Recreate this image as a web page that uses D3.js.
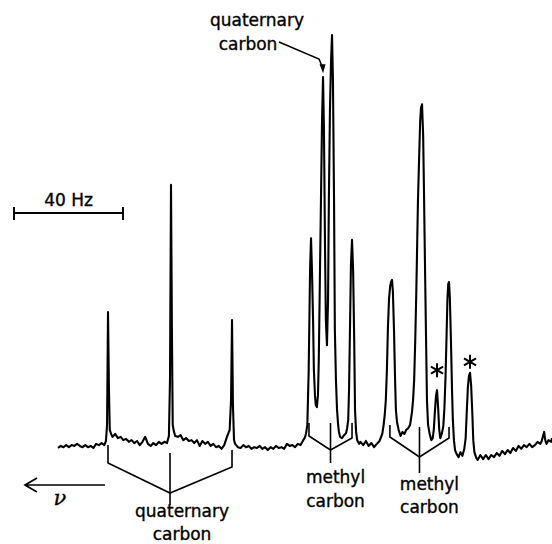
<!DOCTYPE html>
<html>
<head>
<meta charset="utf-8">
<script src="https://cdn.jsdelivr.net/npm/d3@7"></script>
<style>
body { margin: 0; background: #fff; }
svg text { font-family: "DejaVu Sans", sans-serif; font-size: 17px; fill: #000; stroke: #000; stroke-width: 0.35px; }
</style>
</head>
<body>
<div id="chart"></div>
<script>
//////////////////////////////////////////////////////////////////////////////
// Data: shift in Hz (from left end), intensity in %

var traceHz = [0,1,2,3,4,5,6,7,8,9,10,11,12,13,14,15,16,17,17.6,18.0,18.35,18.7,19.0,19.5,
  20,21,22,23,24,25,26,27,28,29,30,31,32,33,34,35,36,37,38,39,40,40.7,41.1,41.47,41.8,42.1,42.5,
  43,44,45,46,47,48,49,50,51,52,53,54,55,56,57,58,59,60,61,62,63,63.5,63.86,64.2,64.6,
  65,66,67,68,69,70,71,72,73,74,75,76,77,78,79,80,81,82,83,84,85,86,87,88,89,90,90.5,91,91.5,
  92,92.5,92.85,93.2,93.6,93.9,94.3,94.6,95.0,95.4,95.7,96.1,96.5,96.9,97.26,97.6,98.0,98.3,98.7,
  99.1,99.4,99.8,100.2,100.56,100.9,101.3,101.6,102.0,102.4,102.8,103.1,103.5,104.2,105,105.7,
  106.1,106.5,106.8,107.2,107.5,107.9,108.3,108.7,109.0,109.4,109.8,110.5,111,112,113,114,115,
  116,117,118,119,119.5,119.9,120.3,120.7,121.1,121.5,121.9,122.2,122.58,122.9,123.3,123.7,124.0,
  124.4,125,125.7,126.4,127.1,127.8,128.5,129.2,129.9,130.3,130.7,131.1,131.5,131.8,132.1,132.5,
  132.9,133.2,133.59,134.0,134.3,134.7,135.1,135.4,135.8,136.4,137,137.5,137.9,138.3,138.7,139.09,
  139.5,139.9,140.3,140.9,141.4,141.8,142.2,142.6,142.9,143.2,143.5,143.8,144.2,144.6,144.9,145.3,
  145.7,146.3,147,147.7,148.4,149.1,149.6,150.0,150.4,150.8,151.2,151.6,152.0,152.4,152.8,153.5,
  154,155,156,157,158,159,160,161,162,163,164,165,166,167,168,169,170,171,172,173,174,175,176,
  177,177.5,178,178.4,178.8,179.3,180,181,181.3];

var traceInt = [0.0,0.5,0.2,0.7,0.2,0.7,0.5,1.0,0.5,0.2,0.7,0.2,0.5,0.0,1.0,0.7,1.2,0.7,1.7,5.6,32.9,14.0,4.4,3.4,
  2.7,3.4,2.4,2.7,1.9,2.2,1.5,1.9,1.2,1.7,0.7,1.5,2.7,1.0,0.5,1.2,0.7,1.5,1.0,1.5,1.2,2.9,16.5,63.7,28.6,5.6,4.1,
  2.9,2.7,3.1,1.9,2.4,1.7,1.9,1.2,1.9,0.5,1.7,1.0,1.5,0.5,1.0,0.2,0.5,-0.2,0.7,2.7,4.4,11.6,31.0,10.4,1.9,
  1.0,0.2,0.0,0.7,0.2,0.5,-0.2,0.2,0.0,0.5,-0.2,0.2,-0.5,0.2,-0.2,0.5,0.0,0.2,-0.2,1.0,0.5,0.7,0.2,1.0,0.7,1.9,2.4,3.4,5.6,
  18.9,43.1,50.8,43.1,31.0,18.9,12.8,10.4,9.9,12.8,21.3,40.7,60.0,79.4,89.8,77.0,47.9,31.0,24.9,
  35.8,60.0,81.8,93.9,100.0,89.1,60.0,28.6,16.5,9.2,5.6,3.9,2.7,2.4,3.1,3.6,
  4.8,6.8,14.0,31.0,44.3,50.4,43.1,26.1,9.2,3.9,1.9,1.0,1.5,0.7,1.7,0.5,1.2,
  0.2,1.0,1.7,3.4,5.6,8.0,11.6,18.9,29.8,36.3,39.2,40.2,40.7,37.8,28.6,16.5,9.2,
  6.3,4.4,2.9,3.9,3.4,4.4,4.8,5.6,8.7,11.6,16.5,26.1,38.2,49.1,60.0,69.7,
  78.9,82.3,83.2,75.7,62.4,43.1,24.9,11.6,5.6,3.4,1.9,2.4,4.4,8.7,12.6,14.0,
  9.7,4.4,2.4,3.6,5.3,9.7,16.9,27.4,35.8,39.7,40.2,36.3,26.1,14.0,6.8,1.9,
  -0.5,-1.5,-2.2,-1.0,-1.9,-0.2,2.4,8.7,14.5,17.4,18.2,15.3,9.2,1.9,-1.0,-2.4,
  -2.9,-1.7,-2.7,-1.7,-2.7,-1.7,-2.2,-1.2,-1.9,-0.7,-1.5,-0.5,-1.2,0.0,-0.7,0.5,-0.2,0.7,0.2,1.0,0.2,0.7,1.5,
  1.0,1.7,2.9,3.9,1.9,1.0,1.9,1.5,2.4];

// multiplets: outer lines and the label under the bracket
var multipletNames = [["quaternary", "carbon"], ["methyl", "carbon"], ["methyl", "carbon"]];
var multipletLeftHz  = [18.35, 92.1, 121.8];
var multipletRightHz = [63.86, 107.9, 143.5];

// impurity lines marked with *
var starHz  = [139.09, 151.2];
var starInt = [14.0, 18.2];

// arrowed label on top
var topLabel = ["quaternary", "carbon"];
var topLabelHz = 97.26;
var topLabelInt = 89.8;

var scaleBarHz = 40;

//////////////////////////////////////////////////////////////////////////////
// Scales, svg

var width = 552, height = 544;

var xScale = d3.scaleLinear().domain([0, 180]).range([58, 548.5]);
var yScale = d3.scaleLinear().domain([0, 100]).range([448, 35]);

var svg = d3.select("#chart")
    .append("svg")
    .attr("width", width)
    .attr("height", height);

svg.append("rect")
    .attr("width", width)
    .attr("height", height)
    .attr("fill", "#fff");

//////////////////////////////////////////////////////////////////////////////
// Spectrum trace

var trace = traceHz.map(function(h, i) { return [h, traceInt[i]]; });

var line = d3.line()
    .x(function(d) { return xScale(d[0]); })
    .y(function(d) { return yScale(d[1]); });

svg.append("path")
    .datum(trace)
    .attr("d", line)
    .attr("fill", "none")
    .attr("stroke", "#000")
    .attr("stroke-width", 2.1)
    .attr("stroke-linejoin", "round");

//////////////////////////////////////////////////////////////////////////////
// Multiplet brackets

var bracketLayout = [
    { topL: 445, topR: 450, footL: 463, footR: 467, apex: 493, stemTop: 453, stemBot: 505, dx: 12, y1: 517, y2: 540 },
    { topL: 423, topR: 423, footL: 436, footR: 438, apex: 450, stemTop: 423, stemBot: 463, dx: 5,  y1: 483, y2: 507 },
    { topL: 425, topR: 427, footL: 437, footR: 438, apex: 457, stemTop: 427, stemBot: 473, dx: 10, y1: 490, y2: 513 }
];

multipletNames.forEach(function(name, i) {
    var L = bracketLayout[i];
    var xl = xScale(multipletLeftHz[i]);
    var xr = xScale(multipletRightHz[i]);
    var xc = (xl + xr) / 2;
    var g = svg.append("g");

    g.append("path")
        .attr("d", "M" + xl + "," + L.topL + "L" + xl + "," + L.footL +
                   "L" + xc + "," + L.apex +
                   "L" + xr + "," + L.footR + "L" + xr + "," + L.topR)
        .attr("fill", "none")
        .attr("stroke", "#000")
        .attr("stroke-width", 1.6);

    g.append("line")
        .attr("x1", xc).attr("x2", xc)
        .attr("y1", L.stemTop).attr("y2", L.stemBot)
        .attr("stroke", "#000")
        .attr("stroke-width", 1.6);

    g.append("text")
        .attr("x", xc + L.dx).attr("y", L.y1)
        .attr("text-anchor", "middle")
        .text(name[0]);
    g.append("text")
        .attr("x", xc + L.dx).attr("y", L.y2)
        .attr("text-anchor", "middle")
        .text(name[1]);
});

//////////////////////////////////////////////////////////////////////////////
// Asterisks

var starOffset = [20, 11];

starHz.forEach(function(h, i) {
    var cx = xScale(h), cy = yScale(starInt[i]) - starOffset[i], r = 7;
    var d = "";
    [90, 30, -30].forEach(function(a) {
        var t = a * Math.PI / 180;
        d += "M" + (cx - r * Math.cos(t)) + "," + (cy + r * Math.sin(t)) +
             "L" + (cx + r * Math.cos(t)) + "," + (cy - r * Math.sin(t));
    });
    svg.append("path")
        .attr("d", d)
        .attr("stroke", "#000")
        .attr("stroke-width", 2);
});

//////////////////////////////////////////////////////////////////////////////
// Top label with arrow

var tipX = xScale(topLabelHz), tipY = yScale(topLabelInt) - 4;

svg.append("text").attr("x", 257).attr("y", 26).attr("text-anchor", "middle").text(topLabel[0]);
svg.append("text").attr("x", 248).attr("y", 50).attr("text-anchor", "middle").text(topLabel[1]);

svg.append("path")
    .attr("d", "M279,42L" + (tipX - 4) + ",59L" + (tipX - 1) + "," + (tipY - 7))
    .attr("fill", "none")
    .attr("stroke", "#000")
    .attr("stroke-width", 1.5);

svg.append("path")
    .attr("d", "M" + (tipX - 3.5) + "," + (tipY - 9) + "L" + (tipX + 2.5) + "," + (tipY - 9) +
               "L" + tipX + "," + tipY + "Z")
    .attr("fill", "#000");

//////////////////////////////////////////////////////////////////////////////
// Scale bar 40 Hz

var barX0 = 14;
var barX1 = barX0 + (xScale(scaleBarHz) - xScale(0));

svg.append("path")
    .attr("d", "M" + barX0 + ",213L" + barX1 + ",213" +
               "M" + barX0 + ",207L" + barX0 + ",220" +
               "M" + barX1 + ",207L" + barX1 + ",220")
    .attr("stroke", "#000")
    .attr("stroke-width", 1.9);

svg.append("text")
    .attr("x", (barX0 + barX1) / 2)
    .attr("y", 206)
    .attr("text-anchor", "middle")
    .text(scaleBarHz + " Hz");

//////////////////////////////////////////////////////////////////////////////
// Frequency arrow

svg.append("path")
    .attr("d", "M105,485L25,485M37,478L25,485L37,492")
    .attr("fill", "none")
    .attr("stroke", "#000")
    .attr("stroke-width", 1.7);

svg.append("text")
    .attr("x", 60).attr("y", 505)
    .attr("text-anchor", "middle")
    .style("font-family", "'DejaVu Serif', serif")
    .style("font-style", "italic")
    .style("font-size", "21px")
    .text("ν");
</script>
</body>
</html>
